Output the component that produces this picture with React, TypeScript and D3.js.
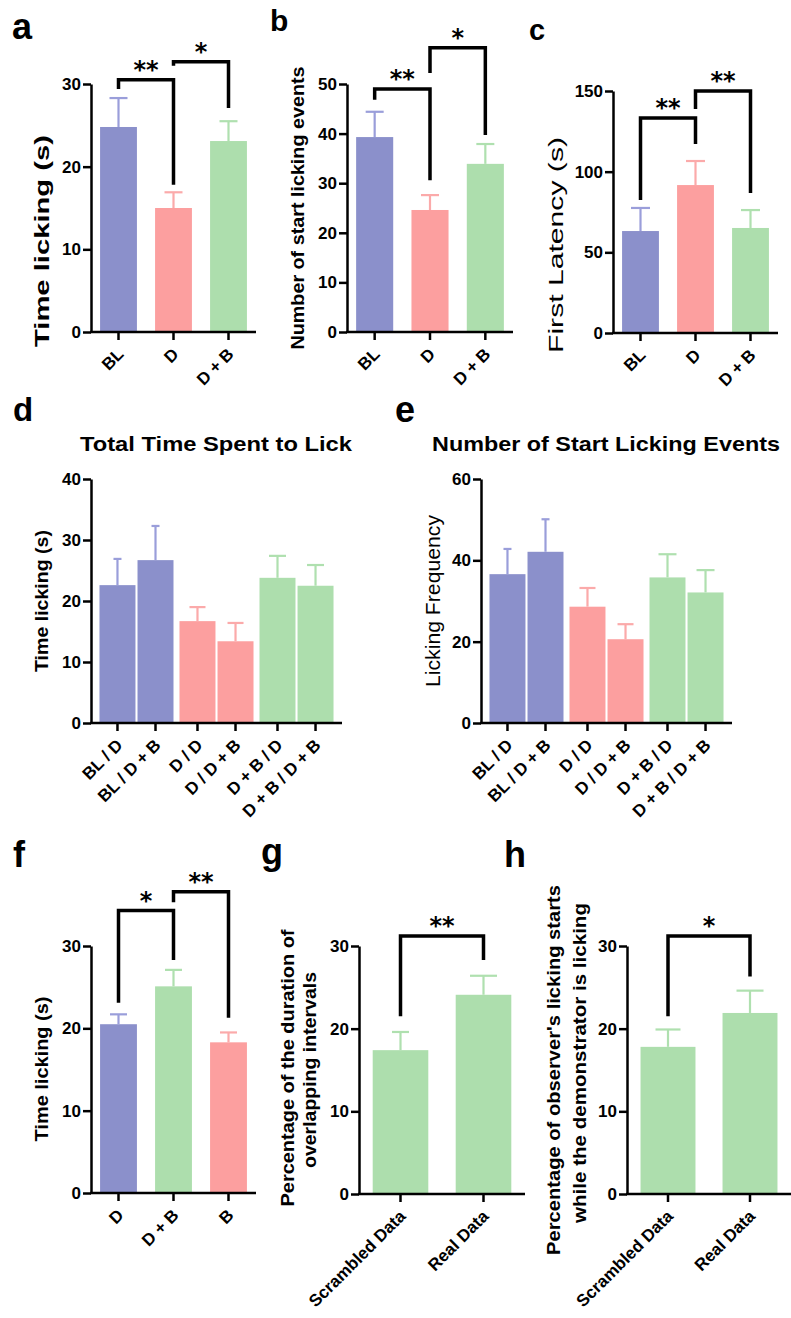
import React, { useEffect, useRef } from "react"
import * as d3 from "d3"

const W = 791
const H = 1318

const BLUE = "#8B90CB"
const PINK = "#FC9F9F"
const GREEN = "#ADDEAD"
const errColor: Record<string, string> = { [BLUE]: "#9A9EDA", [PINK]: "#FBAAAA", [GREEN]: "#AFE0AF" }

// a - time licking
const catsA = ["BL", "D", "D + B"]
const meanA = [24.8, 15.0, 23.1]
const semA = [3.5, 1.9, 2.4]
const ticksA = [0, 10, 20, 30]

// b - number of start licking events
const catsB = ["BL", "D", "D + B"]
const meanB = [39.3, 24.6, 33.9]
const semB = [5.1, 3.0, 4.0]
const ticksB = [0, 10, 20, 30, 40, 50]

// c - first latency
const catsC = ["BL", "D", "D + B"]
const meanC = [63.2, 91.7, 65.1]
const semC = [14.3, 14.9, 11.1]
const ticksC = [0, 50, 100, 150]

// d / e - pairs
const catsDE = ["BL / D", "BL / D + B", "D / D", "D / D + B", "D + B / D", "D + B / D + B"]
const groupsDE = ["BL", "D", "D + B"]
const meanD = [22.6, 26.7, 16.7, 13.4, 23.8, 22.5]
const semD = [4.3, 5.6, 2.3, 3.0, 3.6, 3.4]
const ticksD = [0, 10, 20, 30, 40]
const meanE = [36.6, 42.1, 28.6, 20.6, 35.8, 32.1]
const semE = [6.2, 8.0, 4.6, 3.7, 5.7, 5.5]
const ticksE = [0, 20, 40, 60]

// f
const catsF = ["D", "D + B", "B"]
const meanF = [20.5, 25.1, 18.3]
const semF = [1.2, 2.0, 1.2]
const ticksF = [0, 10, 20, 30]

// g / h
const catsGH = ["Scrambled Data", "Real Data"]
const meanG = [17.4, 24.1]
const semG = [2.2, 2.3]
const meanH = [17.8, 21.9]
const semH = [2.1, 2.7]
const ticksGH = [0, 10, 20, 30]

// significance brackets (values in data units)
const sigA = [
  { from: 0, to: 1, top: 30.5, endFrom: 29.4, endTo: 17.8, mark: "**" },
  { from: 1, to: 2, top: 32.7, endFrom: 32.2, endTo: 27.1, mark: "*" },
]
const sigB = [
  { from: 0, to: 1, top: 49.0, endFrom: 46.8, endTo: 30.6, mark: "**" },
  { from: 1, to: 2, top: 57.3, endFrom: 52.2, endTo: 39.7, mark: "*" },
]
const sigC = [
  { from: 0, to: 1, top: 133.3, endFrom: 82.4, endTo: 117.1, mark: "**" },
  { from: 1, to: 2, top: 150, endFrom: 138.8, endTo: 86.8, mark: "**" },
]
const sigF = [
  { from: 0, to: 1, top: 34.3, endFrom: 23.1, endTo: 28.3, mark: "*" },
  { from: 1, to: 2, top: 36.6, endFrom: 35.3, endTo: 21.3, mark: "**" },
]
const sigG = [{ from: 0, to: 1, top: 31.2, endFrom: 21.5, endTo: 28.3, mark: "**" }]
const sigH = [{ from: 0, to: 1, top: 31.2, endFrom: 21.5, endTo: 26.3, mark: "*" }]

const FONT = "'Liberation Sans', Arial, sans-serif"
const STAR_FONT = "'DejaVu Sans', Verdana, sans-serif"

function simpleX(cats, x0, x1) {
  const x = d3.scaleBand().domain(cats).range([x0, x1]).paddingInner(0.33).paddingOuter(0.165)
  return { pos: (i) => x(cats[i]), bw: x.bandwidth() }
}

function pairedX(x0, x1) {
  const outer = d3.scaleBand().domain(groupsDE).range([x0, x1]).paddingInner(0.075).paddingOuter(0.106)
  const inner = d3.scaleBand().domain(["0", "1"]).range([0, outer.bandwidth()]).paddingInner(0.054)
  return {
    pos: (i) => outer(groupsDE[Math.floor(i / 2)]) + inner(String(i % 2)),
    bw: inner.bandwidth(),
  }
}

const panels = [
  {
    cats: catsA, means: meanA, sems: semA, ticks: ticksA, yMax: 30, yBottom: 332, yTop: 84,
    axisX: 91, xEnd: 256, colors: [BLUE, PINK, GREEN], caps: [18, 18, 18], sig: sigA,
    titles: [{ text: "Time licking (s)", cx: 42, cy: 241, len: 212, size: 21, weight: "bold" }],
  },
  {
    cats: catsB, means: meanB, sems: semB, ticks: ticksB, yMax: 50, yBottom: 332, yTop: 84,
    axisX: 347, xEnd: 513, colors: [BLUE, PINK, GREEN], caps: [18, 18, 18], sig: sigB,
    titles: [{ text: "Number of start licking events", cx: 298, cy: 208, len: 283, size: 18, weight: "bold" }],
  },
  {
    cats: catsC, means: meanC, sems: semC, ticks: ticksC, yMax: 150, yBottom: 333, yTop: 91,
    axisX: 613, xEnd: 778, colors: [BLUE, PINK, GREEN], caps: [19, 19, 19], sig: sigC,
    titles: [{ text: "First Latency (s)", cx: 556, cy: 245, len: 216, size: 21, weight: "normal" }],
  },
  {
    cats: catsDE, means: meanD, sems: semD, ticks: ticksD, yMax: 40, yBottom: 723, yTop: 479,
    axisX: 91, xEnd: 342, paired: true, colors: [BLUE, BLUE, PINK, PINK, GREEN, GREEN],
    caps: [8, 8, 16, 16, 17, 17], sig: [],
    titles: [{ text: "Time licking (s)", cx: 42, cy: 601, len: 142, size: 18, weight: "bold" }],
    heading: { text: "Total Time Spent to Lick", cx: 216, y: 451, len: 272 },
  },
  {
    cats: catsDE, means: meanE, sems: semE, ticks: ticksE, yMax: 60, yBottom: 723, yTop: 479,
    axisX: 481, xEnd: 732, paired: true, colors: [BLUE, BLUE, PINK, PINK, GREEN, GREEN],
    caps: [8, 8, 16, 16, 18, 18], sig: [],
    titles: [{ text: "Licking Frequency", cx: 433, cy: 601, len: 172, size: 20, weight: "normal" }],
    heading: { text: "Number of Start Licking Events", cx: 606, y: 451, len: 348 },
  },
  {
    cats: catsF, means: meanF, sems: semF, ticks: ticksF, yMax: 30, yBottom: 1193, yTop: 946,
    axisX: 91, xEnd: 256, colors: [BLUE, GREEN, PINK], caps: [17, 17, 17], sig: sigF,
    titles: [{ text: "Time licking (s)", cx: 42, cy: 1069, len: 145, size: 18, weight: "bold" }],
  },
  {
    cats: catsGH, means: meanG, sems: semG, ticks: ticksGH, yMax: 30, yBottom: 1194, yTop: 946,
    axisX: 359, xEnd: 525, colors: [GREEN, GREEN], caps: [17, 27], sig: sigG,
    titles: [
      { text: "Percentage of the duration of", cx: 287, cy: 1068, len: 277, size: 19, weight: "bold" },
      { text: "overlapping intervals", cx: 309, cy: 1070, len: 196, size: 19, weight: "bold" },
    ],
  },
  {
    cats: catsGH, means: meanH, sems: semH, ticks: ticksGH, yMax: 30, yBottom: 1194, yTop: 946,
    axisX: 627, xEnd: 791, colors: [GREEN, GREEN], caps: [25, 27], sig: sigH,
    titles: [
      { text: "Percentage of observer's licking starts", cx: 553, cy: 1070, len: 370, size: 19, weight: "bold" },
      { text: "while the demonstrator is licking", cx: 579, cy: 1063, len: 320, size: 19, weight: "bold" },
    ],
  },
]

const letters = [
  { t: "a", x: 12, y: 39, s: 36 },
  { t: "b", x: 270, y: 31, s: 30 },
  { t: "c", x: 529, y: 40, s: 29 },
  { t: "d", x: 13, y: 421, s: 33 },
  { t: "e", x: 395, y: 422, s: 36 },
  { t: "f", x: 13, y: 867, s: 36 },
  { t: "g", x: 261, y: 864, s: 36 },
  { t: "h", x: 504, y: 867, s: 36 },
]

function drawPanel(svg, p) {
  const g = svg.append("g")
  const y = d3.scaleLinear().domain([0, p.yMax]).range([p.yBottom, p.yTop])
  const xs = p.paired ? pairedX(p.axisX, p.xEnd) : simpleX(p.cats, p.axisX, p.xEnd)
  const cx = (i) => xs.pos(i) + xs.bw / 2
  const idx = p.means.map((_, i) => i)

  g.selectAll("rect.bar").data(idx).join("rect")
    .attr("class", "bar")
    .attr("x", (i) => xs.pos(i))
    .attr("y", (i) => y(p.means[i]))
    .attr("width", xs.bw)
    .attr("height", (i) => y(0) - y(p.means[i]))
    .attr("fill", (i) => p.colors[i])

  // error bars (upper only)
  const err = g.selectAll("g.err").data(idx).join("g").attr("class", "err")
    .attr("stroke", (i) => errColor[p.colors[i]]).attr("stroke-width", 2.2)
  err.append("line")
    .attr("x1", cx).attr("x2", cx)
    .attr("y1", (i) => y(p.means[i])).attr("y2", (i) => y(p.means[i] + p.sems[i]))
  err.append("line")
    .attr("x1", (i) => cx(i) - p.caps[i] / 2).attr("x2", (i) => cx(i) + p.caps[i] / 2)
    .attr("y1", (i) => y(p.means[i] + p.sems[i])).attr("y2", (i) => y(p.means[i] + p.sems[i]))

  // y axis
  const ya = g.append("g").attr("transform", `translate(${p.axisX},0)`)
    .call(d3.axisLeft(y).tickValues(p.ticks).tickSize(8).tickSizeOuter(0).tickPadding(2).tickFormat(d3.format("d")))
  ya.selectAll("path, line").attr("stroke", "#000").attr("stroke-width", 2.5)
  ya.selectAll("text").attr("font-family", FONT).attr("font-weight", "bold").attr("font-size", 17).attr("fill", "#000")

  // x axis
  g.append("line").attr("x1", p.axisX - 1).attr("x2", p.xEnd).attr("y1", y(0)).attr("y2", y(0))
    .attr("stroke", "#000").attr("stroke-width", 2.5)
  g.selectAll("line.xt").data(idx).join("line").attr("class", "xt")
    .attr("x1", cx).attr("x2", cx).attr("y1", y(0)).attr("y2", y(0) + 8)
    .attr("stroke", "#000").attr("stroke-width", 2.5)
  g.selectAll("text.xl").data(idx).join("text").attr("class", "xl")
    .attr("transform", (i) => `translate(${cx(i) + 2},${y(0) + 19}) rotate(-45)`)
    .attr("text-anchor", "end").attr("dy", "0.35em")
    .attr("font-family", FONT).attr("font-weight", "bold").attr("font-size", 17)
    .text((i) => p.cats[i])

  // axis titles
  p.titles.forEach((t) => {
    g.append("text")
      .attr("transform", `translate(${t.cx},${t.cy}) rotate(-90)`)
      .attr("text-anchor", "middle").attr("dy", "0.35em")
      .attr("font-family", FONT).attr("font-weight", t.weight).attr("font-size", t.size)
      .attr("textLength", t.len).attr("lengthAdjust", "spacingAndGlyphs")
      .text(t.text)
  })
  if (p.heading) {
    g.append("text").attr("x", p.heading.cx).attr("y", p.heading.y)
      .attr("text-anchor", "middle")
      .attr("font-family", FONT).attr("font-weight", "bold").attr("font-size", 21)
      .attr("textLength", p.heading.len).attr("lengthAdjust", "spacingAndGlyphs")
      .text(p.heading.text)
  }

  // significance brackets
  p.sig.forEach((s) => {
    const xa = cx(s.from)
    const xb = cx(s.to)
    g.append("path")
      .attr("d", `M${xa},${y(s.endFrom)}V${y(s.top)}H${xb}V${y(s.endTo)}`)
      .attr("fill", "none").attr("stroke", "#000").attr("stroke-width", 3.5)
    g.append("text").attr("x", (xa + xb) / 2).attr("y", y(s.top) - 2)
      .attr("text-anchor", "middle")
      .attr("font-family", STAR_FONT).attr("font-weight", "bold").attr("font-size", 24)
      .text(s.mark)
  })
}

export default function App() {
  const ref = useRef(null)

  useEffect(() => {
    document.body.style.margin = "0"
    const svg = d3.select(ref.current)
    svg.selectAll("*").remove()
    svg.append("rect").attr("width", W).attr("height", H).attr("fill", "#fff")
    panels.forEach((p) => drawPanel(svg, p))
    svg.selectAll("text.letter").data(letters).join("text").attr("class", "letter")
      .attr("x", (d) => d.x).attr("y", (d) => d.y)
      .attr("font-family", FONT).attr("font-weight", "bold")
      .attr("font-size", (d) => d.s)
      .text((d) => d.t)
  }, [])

  return <svg ref={ref} width={W} height={H} style={{ display: "block" }} />
}
